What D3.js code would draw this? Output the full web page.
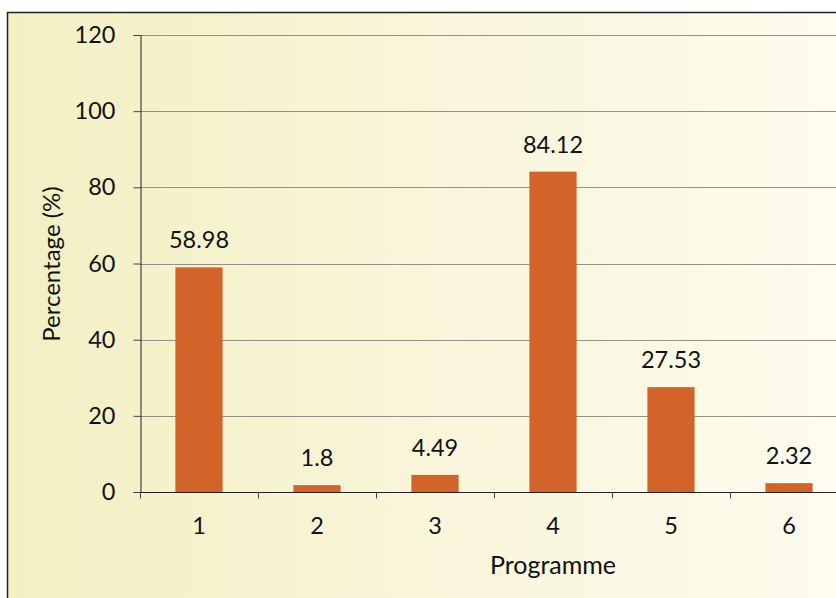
<!DOCTYPE html>
<html>
<head>
<meta charset="utf-8">
<script src="https://cdn.jsdelivr.net/npm/d3@7"></script>
<style>
  body { margin: 0; background: #ffffff; }
  text { font-family: Lato, "Open Sans", sans-serif; fill: #111; }
</style>
</head>
<body>
<div id="chart"></div>
<script>
// data
const programmes = ["1", "2", "3", "4", "5", "6"];
const percentages = [58.98, 1.8, 4.49, 84.12, 27.53, 2.32];
const yTicks = [0, 20, 40, 60, 80, 100, 120];

const W = 836, H = 598;
const plot = { left: 140, top: 35, right: 848, bottom: 492 };

const svg = d3.select("#chart").append("svg")
  .attr("width", W)
  .attr("height", H);

// background gradient
const defs = svg.append("defs");
const grad = defs.append("linearGradient")
  .attr("id", "bg")
  .attr("x1", "0%").attr("y1", "0%")
  .attr("x2", "100%").attr("y2", "0%");
grad.append("stop").attr("offset", "0%").attr("stop-color", "#f3efc3");
grad.append("stop").attr("offset", "55%").attr("stop-color", "#f9f6dc");
grad.append("stop").attr("offset", "100%").attr("stop-color", "#fdfcef");

svg.append("rect")
  .attr("x", 7.5).attr("y", 12.5)
  .attr("width", W + 20).attr("height", H + 20)
  .attr("fill", "url(#bg)")
  .attr("stroke", "#222")
  .attr("stroke-width", 1.5);

// scales
const x = d3.scaleBand()
  .domain(programmes)
  .range([plot.left, plot.right])
  .padding(0);

const y = d3.scaleLinear()
  .domain([0, 120])
  .range([plot.bottom, plot.top]);

const barW = x.bandwidth() * 0.4;

// gridlines
svg.append("g")
  .selectAll("line")
  .data(yTicks.filter(d => d > 0))
  .join("line")
  .attr("x1", plot.left).attr("x2", W)
  .attr("y1", d => Math.round(y(d)) + 0.5)
  .attr("y2", d => Math.round(y(d)) + 0.5)
  .attr("stroke", "#949089")
  .attr("stroke-width", 1);

// bars
svg.append("g")
  .selectAll("rect")
  .data(percentages)
  .join("rect")
  .attr("x", (d, i) => x(programmes[i]) + (x.bandwidth() - barW) / 2)
  .attr("y", d => y(d))
  .attr("width", barW)
  .attr("height", d => y(0) - y(d))
  .attr("fill", "#d2642a");

// data labels
svg.append("g")
  .selectAll("text")
  .data(percentages)
  .join("text")
  .attr("x", (d, i) => x(programmes[i]) + x.bandwidth() / 2)
  .attr("y", d => y(d) - 19)
  .attr("text-anchor", "middle")
  .attr("font-size", "23.5px")
  .text(d => d);

// y axis
const yAxis = d3.axisLeft(y)
  .tickValues(yTicks)
  .tickSize(7)
  .tickPadding(18);

const gy = svg.append("g")
  .attr("transform", `translate(${plot.left + 0.5},0)`)
  .call(yAxis);
gy.select(".domain").attr("stroke", "#222");
gy.selectAll(".tick line").attr("stroke", "#444");
gy.selectAll(".tick text").attr("font-size", "23.5px").style("font-family", "Lato, sans-serif").attr("fill", "#111");

// x axis
const xAxis = d3.axisBottom(x)
  .tickSize(0)
  .tickPadding(25);

const gx = svg.append("g")
  .attr("transform", `translate(0,${plot.bottom + 0.5})`)
  .call(xAxis);
gx.select(".domain").attr("d", `M${plot.left},0H${W}`).attr("stroke", "#222");
gx.selectAll(".tick text").attr("font-size", "23.5px").style("font-family", "Lato, sans-serif").attr("fill", "#111");

// x tick marks between categories
gx.selectAll(".sep")
  .data(programmes)
  .join("line")
  .attr("class", "sep")
  .attr("x1", d => Math.round(x(d)) + 0.5)
  .attr("x2", d => Math.round(x(d)) + 0.5)
  .attr("y1", 0).attr("y2", 6)
  .attr("stroke", "#444");

// axis titles
svg.append("text")
  .attr("x", 553)
  .attr("y", 574)
  .attr("text-anchor", "middle")
  .attr("font-size", "25px")
  .text("Programme");

svg.append("text")
  .attr("transform", `translate(60,264) rotate(-90)`)
  .attr("text-anchor", "middle")
  .attr("font-size", "24px")
  .text("Percentage (%)");
</script>
</body>
</html>
